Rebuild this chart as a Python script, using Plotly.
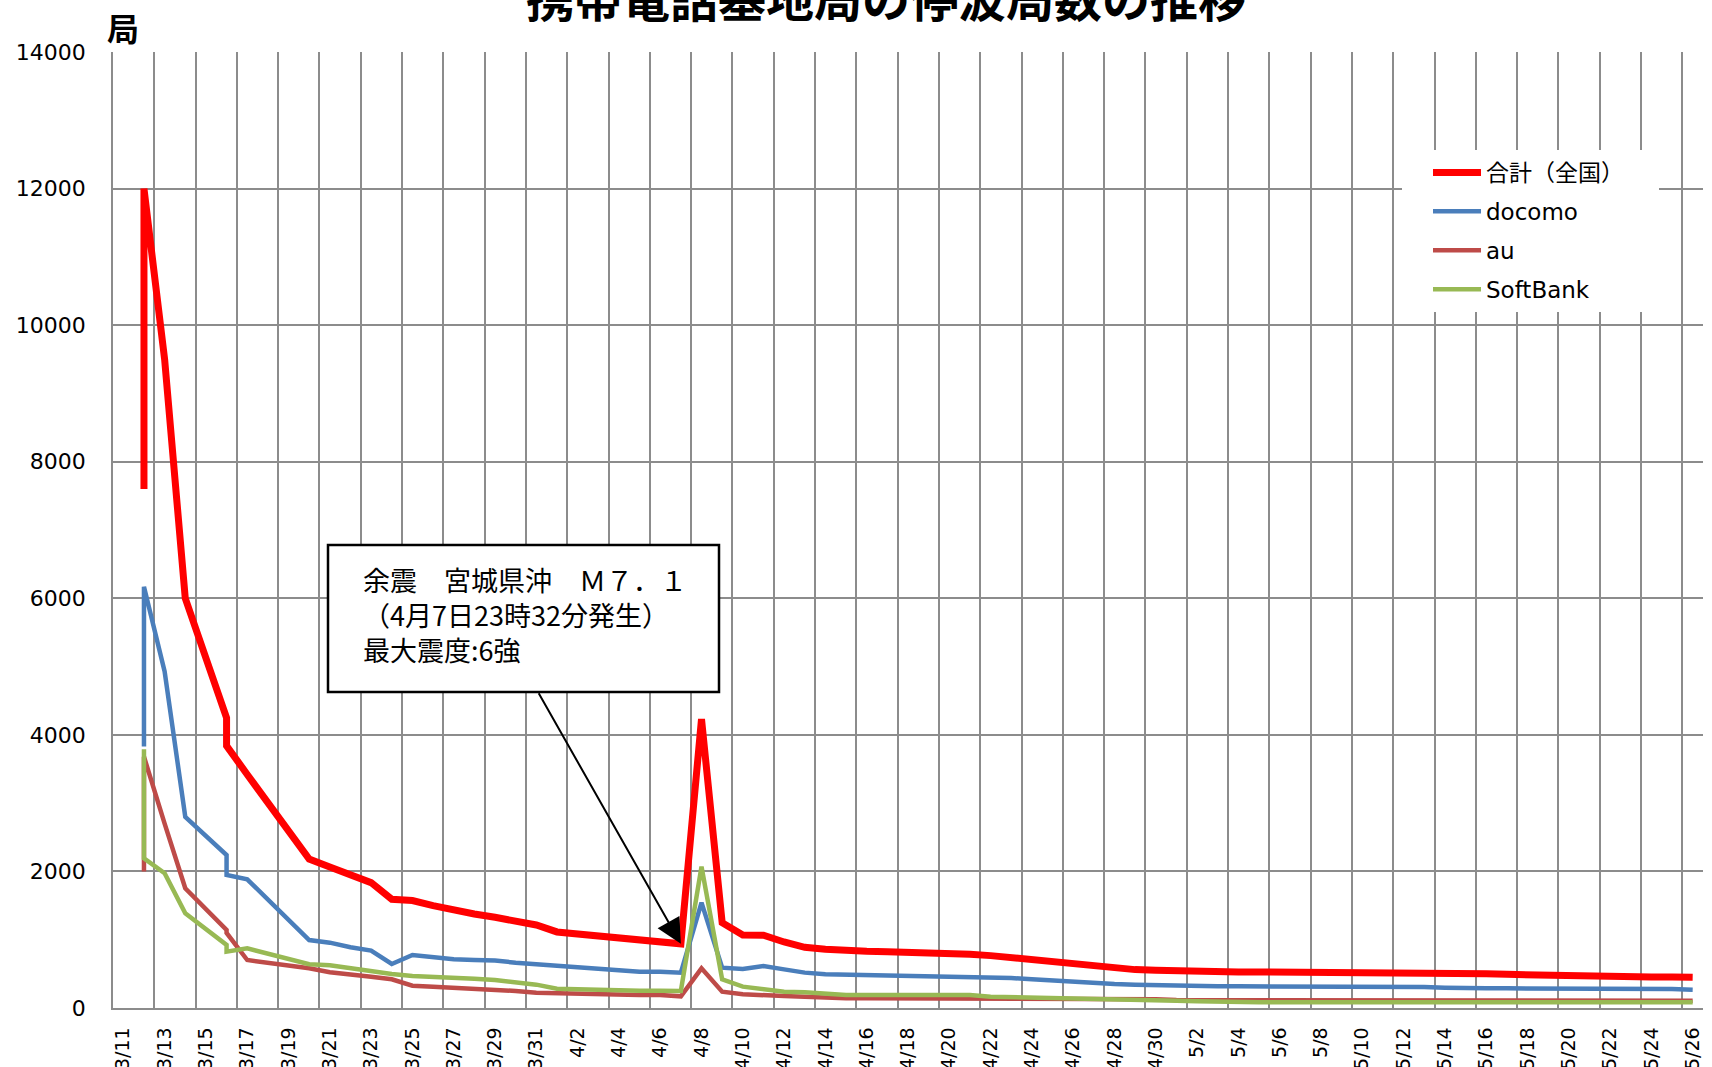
import pandas as pd
import plotly.graph_objects as go

# Report dates (some days carry two reports, plotted at the same x)
dates = [
    "3/12", "3/12", "3/13", "3/14", "3/16", "3/16", "3/17",
    "3/20", "3/21", "3/22", "3/23", "3/24", "3/25", "3/26", "3/27", "3/28", "3/29", "3/30", "3/31",
    "4/1", "4/2", "4/3", "4/4", "4/5", "4/6", "4/7", "4/8", "4/9", "4/10",
    "4/11", "4/12", "4/13", "4/14", "4/15", "4/16", "4/17", "4/18", "4/19", "4/20",
    "4/21", "4/22", "4/23", "4/24", "4/25", "4/26", "4/27", "4/28", "4/29", "4/30",
    "5/1", "5/2", "5/3", "5/4", "5/5", "5/6", "5/7", "5/8", "5/9", "5/10",
    "5/11", "5/12", "5/13", "5/14", "5/15", "5/16", "5/17", "5/18", "5/19", "5/20",
    "5/21", "5/22", "5/23", "5/24", "5/25", "5/26",
]

total = [
    7600, 12000, 9500, 6000, 4250, 3840, 3420,
    2180, 2065, 1945, 1836, 1592, 1573, 1499, 1426, 1377, 1328, 1265, 1216,
    1114, 1084, 1050, 1026, 996, 977, 940, 4230, 1250, 1070,
    1065, 967, 889, 862, 840, 830, 825, 820, 815, 786,
    786, 767, 738, 713, 689, 650, 620, 576, 562, 552,
    542, 532, 528, 528, 528, 528, 528, 518, 513, 508,
    508, 508, 508, 508, 508, 503, 493, 484, 479, 474,
    469, 464, 459, 454, 454, 449,
]

docomo = [
    3830, 6170, 4930, 2800, 2240, 1950, 1885,
    996, 957, 889, 840, 645, 777, 742, 713, 703, 694, 664, 640,
    615, 596, 576, 557, 532, 532, 518, 1543, 591, 571,
    615, 566, 518, 493, 488, 483, 479, 469, 464, 459,
    459, 459, 440, 420, 401, 376, 371, 352, 342, 332,
    327, 317, 317, 317, 317, 317, 317, 317, 317, 317,
    317, 317, 308, 298, 288, 288, 288, 288, 288, 288,
    288, 288, 288, 283, 278, 269,
]

au = [
    2000, 3680, 2700, 1753, 1143, 1100, 703,
    581, 523, 498, 459, 420, 327, 313, 298, 288, 273, 249, 225,
    215, 205, 195, 190, 190, 190, 171, 581, 239, 200,
    181, 176, 166, 147, 142, 142, 142, 142, 142, 142,
    132, 127, 127, 127, 127, 127, 127, 127, 127, 127,
    117, 117, 117, 117, 117, 117, 117, 117, 117, 117,
    107, 107, 107, 107, 107, 107, 107, 107, 107, 107,
    107, 107, 107, 107, 107, 107,
]

softbank = [
    3790, 2193, 1973, 1387, 923, 825, 874,
    640, 625, 581, 542, 498, 469, 459, 449, 430, 410, 381, 342,
    283, 273, 264, 254, 254, 254, 250, 2071, 420, 313,
    283, 239, 230, 205, 190, 190, 190, 190, 190, 190,
    190, 166, 161, 156, 151, 146, 142, 132, 127, 117,
    107, 98, 88, 83, 83, 83, 83, 83, 83, 83,
    83, 83, 83, 83, 83, 83, 83, 83, 83, 83,
    83, 83, 83, 83, 83, 83,
]

tick_labels = [
    "3/11", "3/13", "3/15", "3/17", "3/19", "3/21", "3/23", "3/25", "3/27", "3/29", "3/31",
    "4/2", "4/4", "4/6", "4/8", "4/10", "4/12", "4/14", "4/16", "4/18", "4/20",
    "4/22", "4/24", "4/26", "4/28", "4/30",
    "5/2", "5/4", "5/6", "5/8", "5/10", "5/12", "5/14", "5/16", "5/18", "5/20",
    "5/22", "5/24", "5/26",
]

y_ticks = [0, 2000, 4000, 6000, 8000, 10000, 12000, 14000]

series_names = ["合計（全国）", "docomo", "au", "SoftBank"]
series_values = [total, docomo, au, softbank]
series_colors = ["#FF0000", "#4A7EBB", "#BE4B48", "#98B954"]
series_widths = [7, 4.5, 4.5, 4.5]

GRID = "#8C8C8C"
JP = "Noto Sans CJK JP"
NUM = "DejaVu Sans, Noto Sans CJK JP"


def to_dt(labels):
    return pd.to_datetime(["2011/" + s for s in labels], format="%Y/%m/%d")


x = to_dt(dates)
tick_dt = to_dt(tick_labels)
half_day = pd.Timedelta(hours=12)
# each date occupies a one-day slot; gridlines sit on slot boundaries
grid_dt = tick_dt - half_day
fmt = "%Y-%m-%d %H:%M"

fig = go.Figure()
for i, (name, vals, col, w) in enumerate(zip(series_names, series_values, series_colors, series_widths)):
    fig.add_trace(go.Scatter(
        x=x, y=vals, mode="lines", name=name,
        line=dict(color=col, width=w),
        legendgroup="g%d" % i,
    ))

fig.update_layout(
    width=1712, height=1067,
    margin=dict(l=113, r=9, t=52, b=59, autoexpand=False),
    paper_bgcolor="white", plot_bgcolor="white",
    xaxis=dict(
        type="date",
        range=[(tick_dt[0] - half_day).strftime(fmt), (tick_dt[-1] + half_day).strftime(fmt)],
        tickmode="array",
        tickvals=[t.strftime(fmt) for t in tick_dt],
        ticktext=tick_labels,
        tickangle=-90,
        showgrid=False,
        ticks="",
        ticklabelstandoff=10,
        showline=True, linecolor=GRID, linewidth=1.5,
        zeroline=False,
        tickfont=dict(family=NUM, size=19, color="black"),
        minor=dict(
            tickmode="array",
            tickvals=[t.strftime(fmt) for t in grid_dt],
            showgrid=True, gridcolor=GRID, gridwidth=1.5, ticks="",
        ),
        fixedrange=True,
    ),
    yaxis=dict(
        range=[0, 14000],
        tickmode="array",
        tickvals=y_ticks,
        ticktext=[str(v) for v in y_ticks],
        showgrid=True, gridcolor=GRID, gridwidth=1.5,
        showline=True, linecolor=GRID, linewidth=1.5,
        zeroline=False,
        ticks="",
        ticklabelstandoff=21,
        tickfont=dict(family=NUM, size=22, color="black"),
        fixedrange=True,
    ),
    showlegend=True,
    legend=dict(
        x=(1428 - 113) / 1590, y=(1008 - 151) / 956,
        xanchor="left", yanchor="top",
        bgcolor="rgba(255,255,255,0)",
        borderwidth=0,
        font=dict(family=NUM, size=23, color="black"),
        itemwidth=48,
        traceorder="grouped",
        tracegroupgap=6,
    ),
)


def px_x(p):
    return (p - 113) / 1590


def px_y(p):
    return (1008 - p) / 956


# white panel behind the legend
fig.add_shape(type="rect", xref="paper", yref="paper",
              x0=px_x(1402), x1=px_x(1659), y0=px_y(312), y1=px_y(150),
              fillcolor="white", line=dict(width=0), layer="above")

# callout box for the aftershock
fig.add_shape(type="rect", xref="paper", yref="paper",
              x0=px_x(328), x1=px_x(719), y0=px_y(692), y1=px_y(545),
              fillcolor="white", line=dict(color="black", width=2.5), layer="above")

callout_lines = ["余震　宮城県沖　Ｍ７．１", "（4月7日23時32分発生）", "最大震度:6強"]
fig.add_annotation(text="<br>".join(callout_lines), xref="paper", yref="paper",
                   x=px_x(362), y=px_y(614), xanchor="left", yanchor="middle",
                   align="left", showarrow=False, borderpad=0,
                   font=dict(family=JP, size=27, color="black"))

# arrow from the callout to the 4/7 total
fig.add_annotation(text="", x=to_dt(["4/7"])[0].strftime(fmt), y=total[dates.index("4/7")],
                   xref="x", yref="y", ax=-143, ay=-252, axref="pixel", ayref="pixel",
                   showarrow=True, arrowhead=2, arrowsize=2.5, arrowwidth=2, arrowcolor="black",
                   standoff=0)

fig.add_annotation(text="携帯電話基地局の停波局数の推移", xref="paper", yref="paper",
                   x=px_x(886), y=px_y(-4), xanchor="center", yanchor="middle",
                   showarrow=False, font=dict(family=JP, size=48, color="black", weight="bold"))

fig.add_annotation(text="局", xref="paper", yref="paper",
                   x=px_x(123), y=px_y(27), xanchor="center", yanchor="middle",
                   showarrow=False, font=dict(family=JP, size=32, color="black", weight="bold"))

fig.write_html("out.html", config={"displayModeBar": False})
